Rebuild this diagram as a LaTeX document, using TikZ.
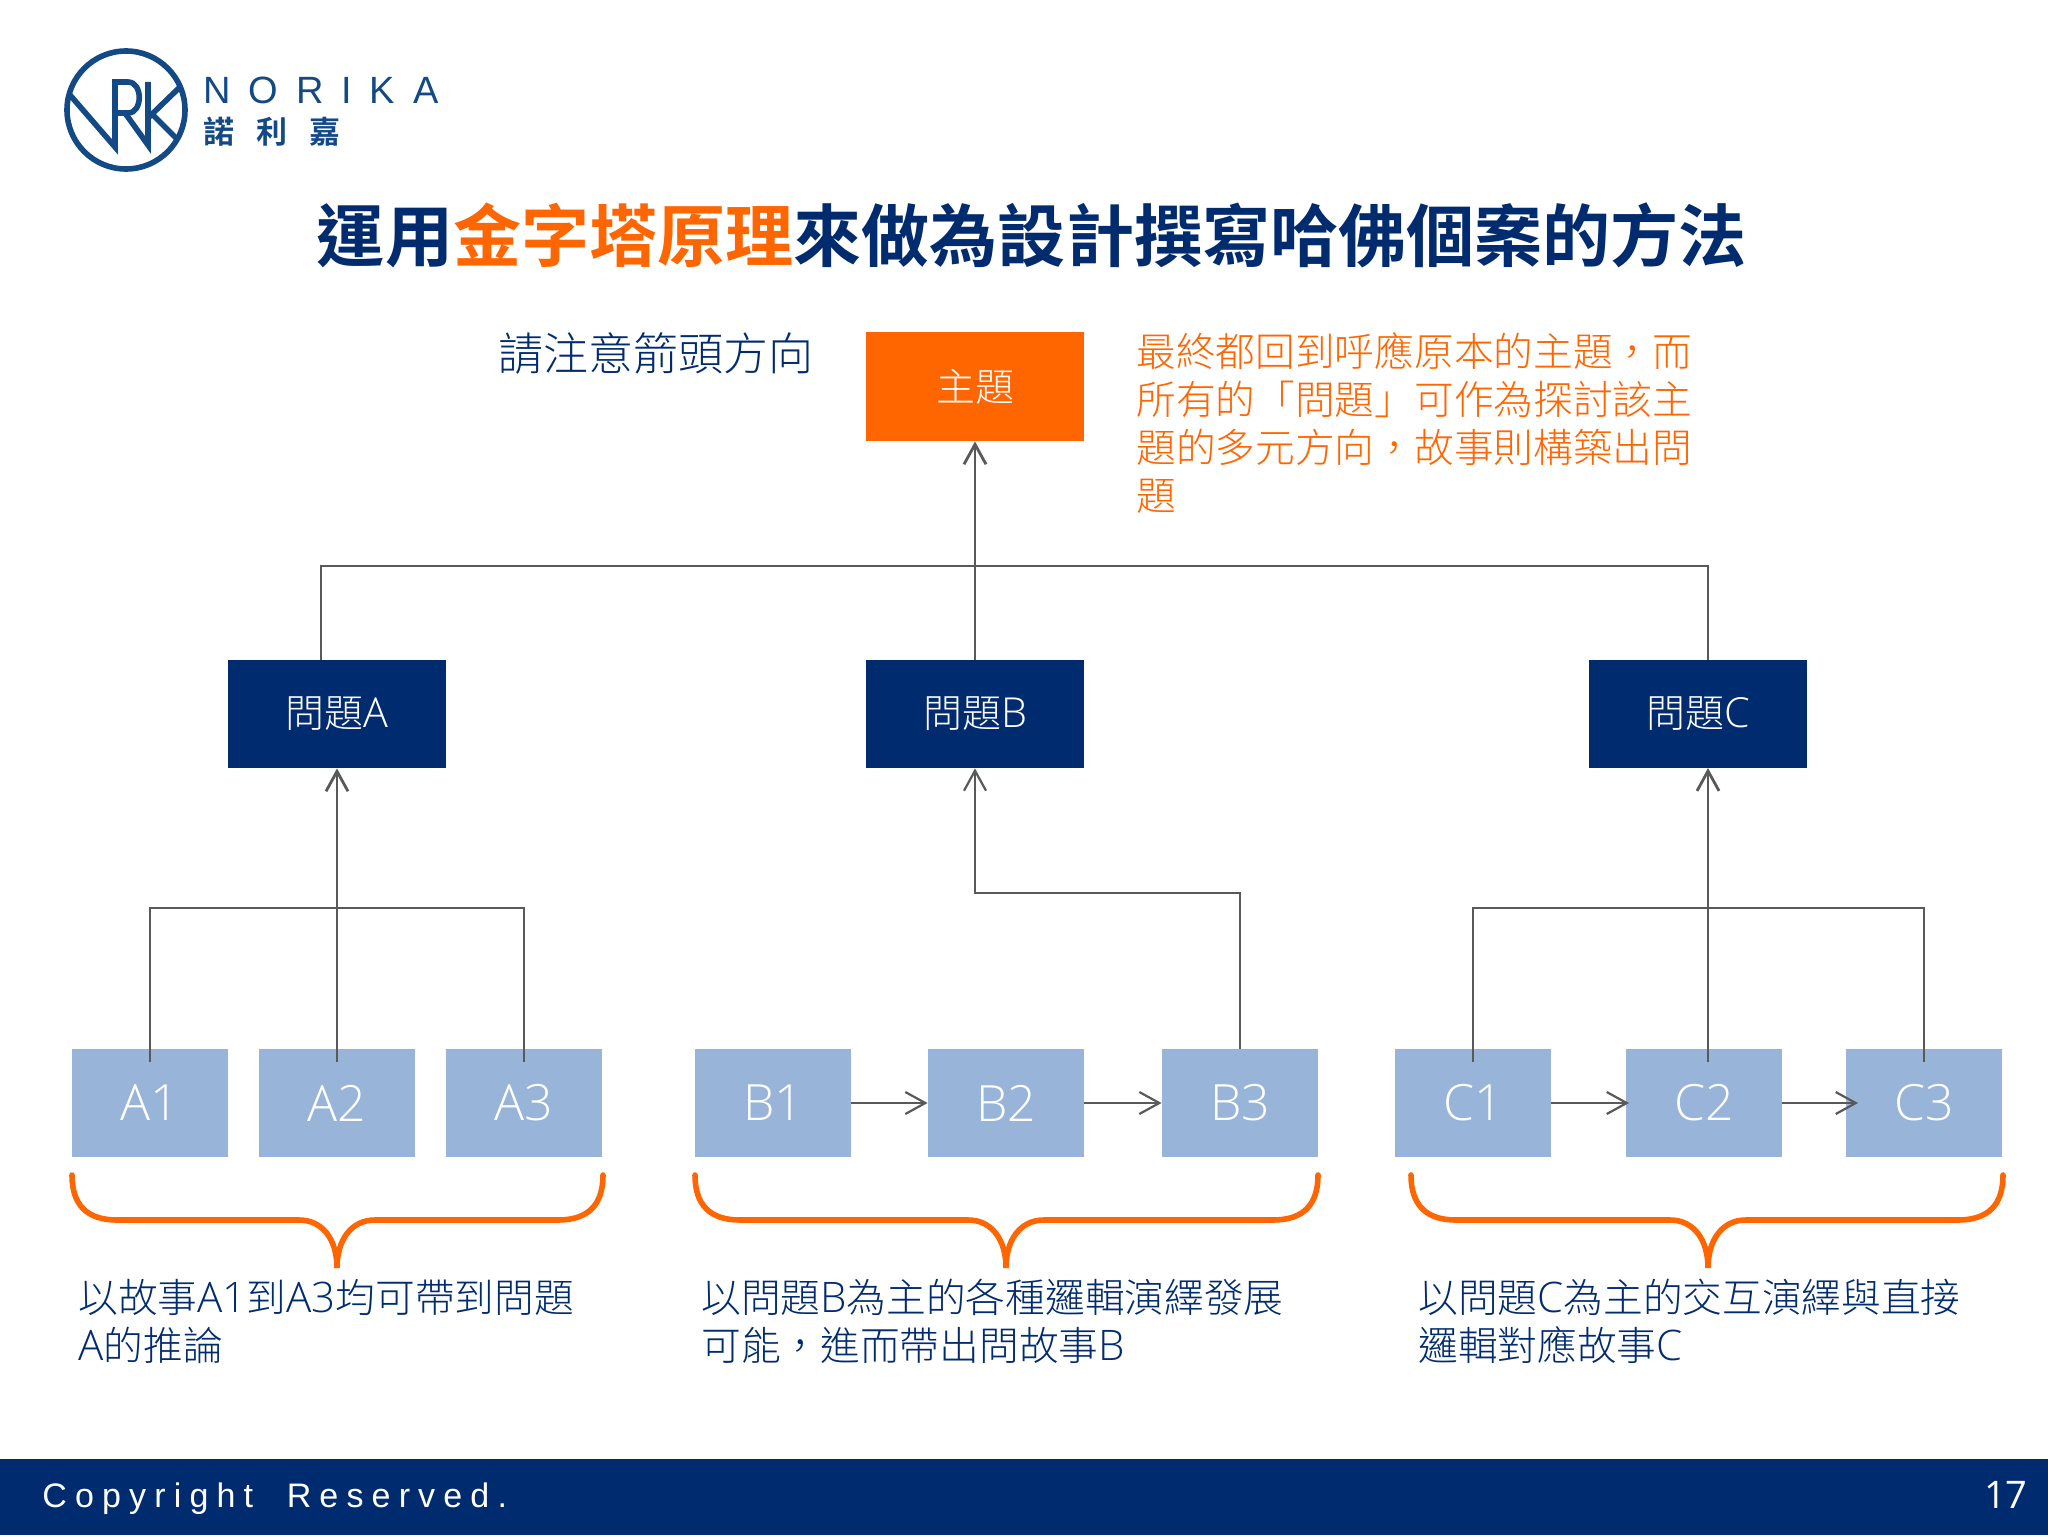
\documentclass[tikz,border=0pt]{standalone}
\usepackage{fontspec}
\usetikzlibrary{arrows.meta}
\setmainfont{Noto Sans CJK TC}[UprightFont=* Light,BoldFont=* Bold,Script=CJK,Language=Chinese Traditional]
\newfontfamily\latf{Open Sans}[UprightFont=* Light]
\newfontfamily\latn{Open Sans}[UprightFont=* Light,Scale=1.06]
\newfontfamily\numf{Open Sans}
\newfontfamily\cpf{Liberation Sans}[LetterSpace=24]
\newfontfamily\nrk{Liberation Sans}[LetterSpace=47]
\newcommand{\Lt}[1]{{\latn #1}}
\definecolor{navy}{HTML}{002C6F}
\definecolor{org}{HTML}{FF6600}
\definecolor{leaf}{HTML}{98B4D8}
\definecolor{lin}{HTML}{595959}
\definecolor{logo}{HTML}{134A86}
\newcommand{\bracepath}[3]{
  \draw[bracestyle] (#1,1175) .. controls (#1,1205) and (#1+15,1220) .. (#1+45,1220) -- (#2-38,1220)
   .. controls (#2-14,1220) and (#2,1240) .. (#2,1268)
   .. controls (#2,1240) and (#2+14,1220) .. (#2+38,1220) -- (#3-45,1220)
   .. controls (#3-15,1220) and (#3,1205) .. (#3,1175);}
\tikzset{
 topicbox/.style={fill=org,text=white,minimum width=109pt,minimum height=54.5pt,inner sep=0,font=\fontsize{19.5}{24}\selectfont},
 qbox/.style={fill=navy,text=white,minimum width=109pt,minimum height=54pt,inner sep=0,font=\fontsize{19.5}{24}\selectfont},
 leafbox/.style={fill=leaf,text=white,minimum width=78pt,minimum height=54pt,inner sep=0,font=\latf\fontsize{25}{28}\selectfont},
 conn/.style={draw=lin,line width=1.1pt},
 arr/.style={draw=lin,line width=1.4pt,-{Straight Barb[length=10pt,width=11pt,line width=1.4pt]}},
 bracestyle/.style={draw=org,line width=2.8pt,line cap=round},
 note/.style={anchor=north west,align=left,inner sep=0,text=navy,font=\fontsize{19.85}{24}\selectfont},
 logoline/.style={draw=logo,line width=2.8pt,line join=miter},
}
\begin{document}
\begin{tikzpicture}[x=.5pt,y=-.5pt]
\useasboundingbox (0,0) rectangle (2048,1536);
\fill[white] (0,0) rectangle (2048,1536);
% logo
\draw[logoline] (126,110) circle (59);
\draw[logoline] (70,95) -- (115,147) -- (115,82) -- (128,82) .. controls (143,82) and (143,113) .. (128,113) -- (115,113);
\draw[logoline] (125,113) -- (148,145) -- (148,82);
\draw[logoline] (148,118) -- (180,87);
\draw[logoline] (151,113) -- (176,138);
\node[anchor=base west,inner sep=0,text=logo] (lgname) at (203,104) {\nrk\fontsize{19}{22}\selectfont NORIKA};
\node[anchor=base west,inner sep=0,text=logo] (lgcn) at (203,143) {\fontsize{15.5}{18}\selectfont\bfseries 諾\hspace{11pt}利\hspace{11pt}嘉};
% title
\node[inner sep=0,text=navy] (title) at (1032,235) {\fontsize{34.05}{40}\selectfont\bfseries 運用{\color{org}金字塔原理}來做為設計撰寫哈佛個案的方法};
\node[inner sep=0,text=navy,anchor=west] (hint) at (498,354) {\fontsize{22.5}{26}\selectfont 請注意箭頭方向};
\node[note,text=org] (notetop) at (1136,332) {最終都回到呼應原本的主題，而\\所有的「問題」可作為探討該主\\題的多元方向，故事則構築出問\\題};
% boxes
\node[topicbox] (topic) at (975,386.5) {主題};
\node[qbox] (qa) at (337,714) {問題\Lt{A}};
\node[qbox] (qb) at (975,714) {問題\Lt{B}};
\node[qbox] (qc) at (1698,714) {問題\Lt{C}};
\foreach \n/\t/\xx in {a1/A1/150,a2/A2/337,a3/A3/524,b1/B1/773,b2/B2/1006,b3/B3/1240,c1/C1/1473,c2/C2/1704,c3/C3/1924}
  \node[leafbox] (\n) at (\xx,1103) {\t};
% junction coordinates
\coordinate (jt) at (975,566);
\coordinate (jqc) at (1708,660);
\coordinate (jqct) at (1708,566);
\coordinate (ja) at (337,908);
\coordinate (ab1) at (150,1062);
\coordinate (ab2) at (337,1062);
\coordinate (ab3) at (524,1062);
\coordinate (cb1) at (1473,1062);
\coordinate (cb2) at (1708,1062);
\coordinate (cb3) at (1924,1062);
\coordinate (cbt) at (1708,768);
\coordinate (jb) at (1240,893);
\coordinate (c2in) at (1629,1103);
\coordinate (c3in) at (1858,1103);
% connectors
\draw[arr] (qb.north) -- (topic.south);
\draw[conn] (qa.north -| 321,660) |- (jqct) -- (jqc);
\draw[conn] (ab1) |- (ab3 |- ja) -- (ab3);
\draw[arr] (ab2) -- (qa.south);
\draw[conn,-{Straight Barb[length=10pt,width=11pt,line width=1.1pt]}] (b3.north) |- (qb.south |- jb) -- (qb.south);
\draw[conn] (cb1) |- (cb3 |- ja) -- (cb3);
\draw[arr] (cb2) -- (cbt);
\draw[conn,-{Straight Barb[length=10pt,width=11pt,line width=1.1pt]}] (b1.east) -- (b2.west);
\draw[conn,-{Straight Barb[length=10pt,width=11pt,line width=1.1pt]}] (b2.east) -- (b3.west);
\draw[conn,-{Straight Barb[length=10pt,width=11pt,line width=1.1pt]}] (c1.east) -- (c2in);
\draw[conn,-{Straight Barb[length=10pt,width=11pt,line width=1.1pt]}] (c2.east) -- (c3in);
% braces
\bracepath{72}{337}{603}
\bracepath{695}{1006}{1318}
\bracepath{1411}{1708}{2003}
% notes
\node[note] (na) at (78,1279) {以故事\Lt{A1}到\Lt{A3}均可帶到問題\\\Lt{A}的推論};
\node[note] (nb) at (701,1279) {以問題\Lt{B}為主的各種邏輯演繹發展\\可能，進而帶出問故事\Lt{B}};
\node[note] (nc) at (1418,1279) {以問題\Lt{C}為主的交互演繹與直接\\邏輯對應故事\Lt{C}};
% footer
\fill[navy] (0,1459) rectangle (2048,1535);
\node[anchor=west,inner sep=0,text=white] (copy) at (42,1499) {\cpf\fontsize{17}{20}\selectfont Copyright\hspace{8pt} Reserved.};
\node[anchor=east,inner sep=0,text=white] (pg) at (2028,1495) {\numf\fontsize{19}{20}\selectfont 17};
\end{tikzpicture}
\end{document}
